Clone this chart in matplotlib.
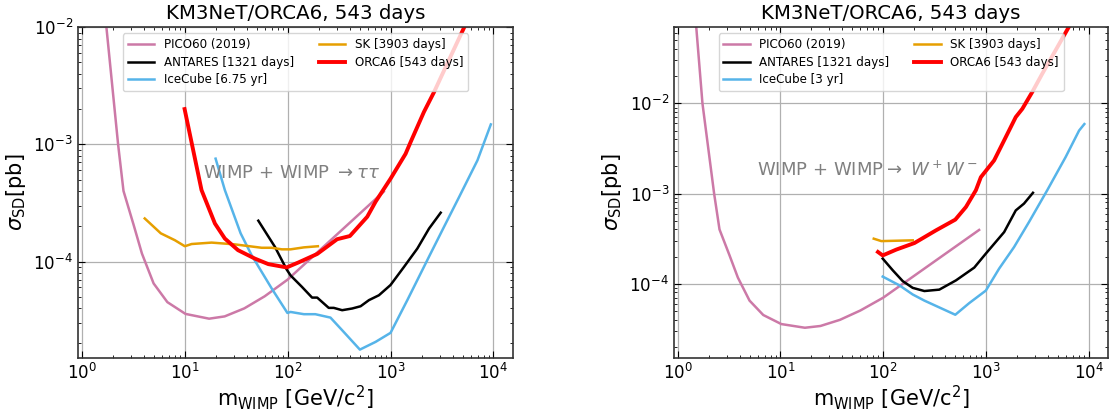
import numpy as np
import matplotlib
matplotlib.use("Agg")
import matplotlib.pyplot as plt

# PICO60 (same limit in both channels)
pico_m = [1.5, 1.74, 2.26, 2.55, 3.2, 3.85, 5.0, 6.8, 10.2, 17.3, 24.5, 38, 60, 100, 860]
pico_s = [8e-2, 1e-2, 1e-3, 4e-4, 2.05e-4, 1.17e-4, 6.5e-5, 4.5e-5, 3.57e-5, 3.25e-5,
          3.4e-5, 3.98e-5, 5.05e-5, 7.0e-5, 3.95e-4]

# tau tau channel
tau_orca_m = [10, 14.6, 19.7, 24.6, 33, 48, 65, 98, 127, 194, 303, 403, 594, 716,
              1000, 1400, 1570, 2110, 2650, 3560, 5200]
tau_orca_s = [2.0e-3, 4.07e-4, 2.11e-4, 1.57e-4, 1.25e-4, 1.06e-4, 9.5e-5, 8.9e-5, 9.8e-5,
              1.16e-4, 1.55e-4, 1.65e-4, 2.41e-4, 3.24e-4, 5.09e-4, 8.3e-4, 1.05e-3,
              1.89e-3, 2.8e-3, 4.9e-3, 1e-2]
tau_antares_m = [52, 75.5, 98, 107, 138, 173, 194, 251, 281, 339, 424, 512, 617, 771,
                 1000, 1352, 1821, 2365, 3071]
tau_antares_s = [2.23e-4, 1.33e-4, 8.55e-5, 7.6e-5, 6.07e-5, 4.92e-5, 4.92e-5, 4.02e-5,
                 4.02e-5, 3.84e-5, 3.97e-5, 4.15e-5, 4.68e-5, 5.15e-5, 6.3e-5, 9.0e-5,
                 1.29e-4, 1.91e-4, 2.61e-4]
tau_icecube_m = [20, 24.6, 35, 44.8, 70, 99.6, 107, 144, 186, 261, 339, 504, 716, 1000,
                 1456, 2365, 3311, 4634, 6985, 9420]
tau_icecube_s = [7.55e-4, 4.07e-4, 1.74e-4, 1.13e-4, 5.9e-5, 3.64e-5, 3.71e-5, 3.55e-5,
                 3.55e-5, 3.32e-5, 2.59e-5, 1.77e-5, 2.06e-5, 2.46e-5, 4.68e-5, 1.1e-4,
                 1.98e-4, 3.55e-4, 7.3e-4, 1.48e-3]
tau_sk_m = [4.1, 5.87, 8.04, 10.05, 11.7, 18.3, 30.8, 56, 70, 88, 107, 144, 197]
tau_sk_s = [2.33e-4, 1.74e-4, 1.52e-4, 1.35e-4, 1.41e-4, 1.45e-4, 1.4e-4, 1.31e-4,
            1.31e-4, 1.27e-4, 1.27e-4, 1.32e-4, 1.35e-4]

# W+ W- channel
ww_orca_m = [89, 99, 134, 202, 327, 504, 640, 800, 894, 1203, 1563, 1955, 2265, 2833,
             3540, 4775, 6430]
ww_orca_s = [2.25e-4, 2.06e-4, 2.39e-4, 2.83e-4, 3.91e-4, 5.14e-4, 7.1e-4, 1.09e-3,
             1.52e-3, 2.33e-3, 4.23e-3, 7.05e-3, 8.7e-3, 1.34e-2, 2.13e-2, 3.88e-2, 7.05e-2]
ww_antares_m = [99, 124, 155, 194, 252, 352, 512, 771, 1000, 1507, 1955, 2352, 2875]
ww_antares_s = [1.9e-4, 1.41e-4, 1.07e-4, 9.0e-5, 8.3e-5, 8.6e-5, 1.09e-4, 1.51e-4,
                2.16e-4, 3.74e-4, 6.5e-4, 7.74e-4, 1.02e-3]
ww_icecube_m = [99, 144, 194, 252, 504, 689, 1000, 1346, 1882, 2630, 3963, 5970, 8090, 9100]
ww_icecube_s = [1.2e-4, 9.6e-5, 7.6e-5, 6.5e-5, 4.53e-5, 6.1e-5, 8.4e-5, 1.47e-4,
                2.55e-4, 4.83e-4, 1.09e-3, 2.53e-3, 5.0e-3, 5.9e-3]
ww_sk_m = [81, 96, 194]
ww_sk_s = [3.16e-4, 2.97e-4, 3.03e-4]

title = "KM3NeT/ORCA6, 543 days"


def draw_panel(ax, sk, antares, icecube, orca, ic_label, ylim, text, text_xy):
    ax.plot(pico_m, pico_s, color="#CC79A7", lw=1.8, label="PICO60 (2019)")
    ax.plot(*antares, color="black", lw=1.8, label="ANTARES [1321 days]")
    ax.plot(*icecube, color="#56B4E9", lw=1.8, label=ic_label)
    ax.plot(*sk, color="#E69F00", lw=1.8, label="SK [3903 days]")
    ax.plot(*orca, color="red", lw=2.8, label="ORCA6 [543 days]")

    ax.set_xscale("log")
    ax.set_yscale("log")
    ax.set_xlim(0.92, 1.55e4)
    ax.set_ylim(*ylim)
    ax.grid(True, which="major", color="#b0b0b0", lw=0.9)
    ax.tick_params(which="both", direction="in", top=True, right=True, labelsize=12)
    ax.tick_params(which="major", length=5)
    ax.tick_params(which="minor", length=2.5)
    for sp in ax.spines.values():
        sp.set_linewidth(1.2)
        sp.set_color("#333333")

    ax.set_title(title, fontsize=14.2)
    ax.set_xlabel(r"m$_{\mathrm{WIMP}}$ [GeV/c$^2$]", fontsize=15, labelpad=0)
    ax.set_ylabel(r"$\sigma_{\mathrm{SD}}$[pb]", fontsize=15)
    ax.text(text_xy[0], text_xy[1], text, transform=ax.transAxes, color="gray",
            fontsize=13, ha="left", va="center")

    ax.legend(ncol=2, loc="upper center", fontsize=8.6, columnspacing=2.1,
              handlelength=2.2, labelspacing=0.4)


fig = plt.figure(figsize=(11.13, 4.12), dpi=100)
ax1 = fig.add_axes([0.070, 0.131, 0.391, 0.803])
ax2 = fig.add_axes([0.6056, 0.131, 0.390, 0.803])

draw_panel(ax1, (tau_sk_m, tau_sk_s), (tau_antares_m, tau_antares_s),
           (tau_icecube_m, tau_icecube_s), (tau_orca_m, tau_orca_s),
           "IceCube [6.75 yr]", (1.5e-5, 1e-2),
           r"WIMP + WIMP $\rightarrow \tau\tau$", (0.287, 0.559))
draw_panel(ax2, (ww_sk_m, ww_sk_s), (ww_antares_m, ww_antares_s),
           (ww_icecube_m, ww_icecube_s), (ww_orca_m, ww_orca_s),
           "IceCube [3 yr]", (1.5e-5, 7e-2),
           r"WIMP + WIMP$\rightarrow$ $W^+W^-$", (0.191, 0.568))

fig.savefig("out.png", dpi=100)
